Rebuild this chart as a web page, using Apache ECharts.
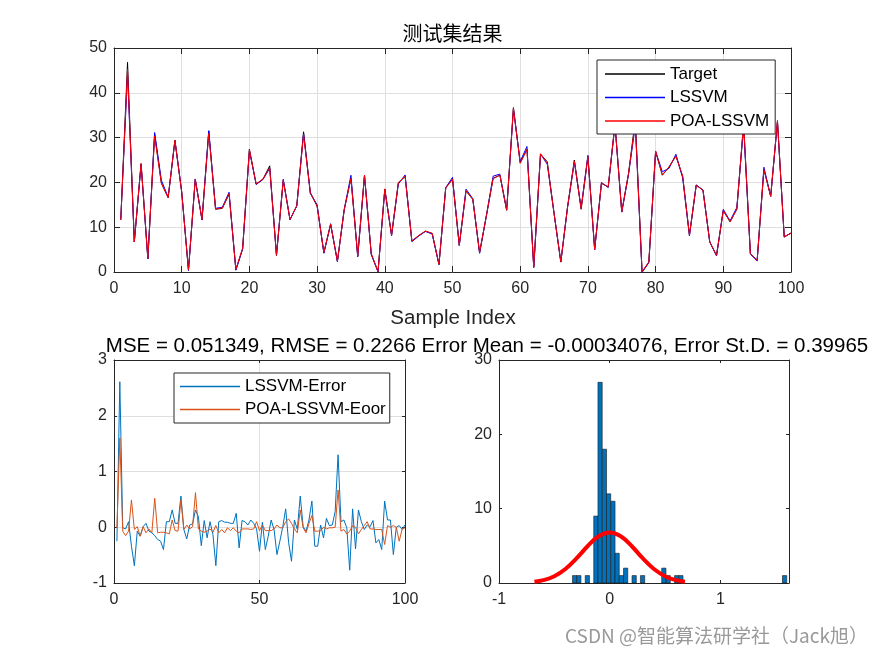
<!DOCTYPE html>
<html><head><meta charset="utf-8">
<script src="https://cdn.jsdelivr.net/npm/echarts@6/dist/echarts.min.js"></script>
<style>html,body{margin:0;padding:0;background:#fff}#c{width:875px;height:656px}</style>
</head><body><div id="c"></div>
<script>
// ---- data ----
const target = [11.6,46.8,6.7,24.1,3.0,30.8,19.8,16.6,29.3,17.9,
  0.4,20.7,11.6,31.4,14.0,14.2,17.4,0.5,5.2,27.4,
  19.6,20.7,23.7,3.7,20.5,11.7,14.8,31.3,17.7,14.7,
  4.3,10.6,2.4,13.8,20.9,3.5,21.6,4.0,0.1,18.5,
  8.2,19.9,21.3,6.9,8.1,9.1,8.6,1.7,18.8,20.7,
  6.0,18.1,16.2,4.3,12.5,20.9,21.6,13.8,36.7,24.4,
  27.4,1.1,26.3,24.6,13.1,2.2,14.6,25.0,14.0,25.7,
  5.0,19.8,19.0,33.0,13.4,22.0,34.0,0.0,2.2,26.9,
  21.6,23.5,25.9,21.3,8.2,19.4,18.3,6.7,3.7,13.7,
  11.2,14.0,33.0,4.1,2.6,22.9,16.9,33.6,7.8,8.7];
const lssvmErr = [-0.25,2.61,-0.01,-0.03,0.10,-0.34,-0.69,-0.07,-0.16,0.01,
  0.07,-0.07,-0.10,-0.15,-0.22,-0.25,-0.40,0.10,0.10,0.31,
  0.07,0.07,0.56,-0.04,-0.21,0.04,0.06,0.31,0.19,-0.33,
  0.12,-0.19,0.10,-0.13,-0.69,0.10,0.12,0.09,0.09,0.07,
  0.07,0.25,-0.37,0.12,0.10,0.04,0.13,0.07,-0.03,-0.43,
  0.09,-0.40,-0.16,0.13,-0.04,-0.49,-0.25,0.01,0.33,-0.27,
  -0.61,0.13,-0.04,0.56,0.01,-0.07,0.13,0.47,-0.34,-0.34,
  0.04,-0.19,0.16,0.03,0.04,0.28,1.30,0.10,0.13,-0.01,
  -0.77,0.33,-0.39,0.31,0.10,-0.04,0.04,0.01,0.12,-0.28,
  -0.22,-0.40,0.47,0.13,0.13,-0.49,0.00,0.03,-0.04,0.04];
const poaErr = [-0.01,1.60,-0.07,-0.15,-0.07,0.49,-0.04,0.01,-0.16,0.01,
  -0.10,-0.03,-0.10,0.52,-0.10,-0.09,-0.09,-0.10,-0.12,0.13,
  -0.06,-0.07,0.49,-0.04,0.04,-0.03,0.01,0.62,-0.03,-0.07,
  -0.09,-0.07,-0.03,-0.09,0.03,-0.10,-0.04,-0.10,-0.01,-0.06,
  -0.01,-0.07,-0.10,-0.03,-0.03,-0.03,-0.04,-0.03,0.10,-0.06,
  0.04,-0.06,-0.06,-0.06,-0.03,0.04,-0.01,-0.01,0.10,0.15,
  0.07,-0.03,-0.10,0.31,-0.01,-0.10,0.07,0.21,-0.07,-0.07,
  -0.06,0.00,-0.03,-0.01,-0.01,0.00,0.67,-0.07,-0.04,-0.12,
  -0.07,0.03,0.00,-0.12,-0.04,0.03,0.10,-0.03,-0.03,-0.04,
  -0.04,-0.04,-0.31,0.03,0.00,0.03,0.00,-0.25,-0.04,-0.01];
const histBinLeft = [-0.336,-0.298,-0.221,-0.144,-0.106,-0.067,-0.029,0.010,0.048,0.086,0.125,0.202,0.278,0.470,0.509,0.586,0.624,1.561];
const histCounts  = [1,1,1,9,27,18,12,11,4,1,2,1,1,2,1,1,1,1];
const histBinWidth = 0.0384;
const fitX = [-0.68,-0.6,-0.5,-0.4,-0.3,-0.2,-0.1,0,0.1,0.2,0.3,0.4,0.5,0.6,0.68];
const fitY = [0.17,0.38,0.92,1.89,3.31,4.94,6.28,6.8,6.28,4.94,3.31,1.89,0.92,0.38,0.17];
const titleTop = '测试集结果';
const titleStats = 'MSE = 0.051349, RMSE = 0.2266 Error Mean = -0.00034076, Error St.D. = 0.39965';
const xLabelTop = 'Sample Index';
const watermark = 'CSDN @智能算法研学社（Jack旭）';

// ---- build ----
const FONT = "'Liberation Sans', Arial, Helvetica, sans-serif";
const AX = '#262626';
const idx = target.map((_, i) => i + 1);
const lssvm = target.map((t, i) => +(t - lssvmErr[i]).toFixed(3));
const poa = target.map((t, i) => +(t - poaErr[i]).toFixed(3));
const pairs = (ys) => ys.map((y, i) => [idx[i], y]);

function mainAxis(grid, pos, min, max, interval, tickLen, grid_lines) {
  return {
    type: 'value', gridIndex: grid, position: pos, min: min, max: max, interval: interval,
    axisLine: { show: true, onZero: false, lineStyle: { color: AX, width: 1 } },
    axisTick: { show: true, inside: true, length: tickLen, lineStyle: { color: AX } },
    axisLabel: { show: true, color: AX, fontSize: 16, fontFamily: FONT, margin: pos === 'bottom' ? 9 : 7,
      showMaxLabel: (max % interval === 0), showMinLabel: true },
    splitLine: { show: grid_lines, lineStyle: { color: '#dfdfdf', width: 1 } }
  };
}
function mirrorAxis(grid, pos, min, max, interval, tickLen) {
  return {
    type: 'value', gridIndex: grid, position: pos, min: min, max: max, interval: interval,
    axisLine: { show: true, onZero: false, lineStyle: { color: AX, width: 1 } },
    axisTick: { show: true, inside: true, length: tickLen, lineStyle: { color: AX } },
    axisLabel: { show: false }, splitLine: { show: false }
  };
}

const chart = echarts.init(document.getElementById('c'), null, { renderer: 'canvas' });
chart.setOption({
  animation: false,
  backgroundColor: '#fff',
  grid: [
    { left: 114, right: 84, top: 48, bottom: 384 },
    { left: 114, right: 470, top: 360, bottom: 73 },
    { left: 499, right: 86, top: 360, bottom: 73 }
  ],
  xAxis: [
    mainAxis(0, 'bottom', 0, 100, 10, 6, true),
    mirrorAxis(0, 'top', 0, 100, 10, 6),
    mainAxis(1, 'bottom', 0, 100, 50, 3, true),
    mirrorAxis(1, 'top', 0, 100, 50, 3),
    mainAxis(2, 'bottom', -1, 1.62, 1, 3, false),
    mirrorAxis(2, 'top', -1, 1.62, 1, 3)
  ],
  yAxis: [
    mainAxis(0, 'left', 0, 50, 10, 6, true),
    mirrorAxis(0, 'right', 0, 50, 10, 6),
    mainAxis(1, 'left', -1, 3, 1, 3, true),
    mirrorAxis(1, 'right', -1, 3, 1, 3),
    mainAxis(2, 'left', 0, 30, 10, 3, false),
    mirrorAxis(2, 'right', 0, 30, 10, 3)
  ],
  legend: [
    {
      data: ['Target', 'LSSVM', 'POA-LSSVM'],
      orient: 'vertical', left: 597, top: 60,
      padding: [5.5, 6, 4.5, 8], itemGap: 6.5, itemWidth: 60, itemHeight: 1.6,
      icon: 'rect', backgroundColor: '#fff', borderColor: AX, borderWidth: 1, borderRadius: 0,
      textStyle: { fontSize: 17, fontFamily: FONT, color: '#000', lineHeight: 16 }
    },
    {
      data: ['LSSVM-Error', 'POA-LSSVM-Eoor'],
      orient: 'vertical', left: 174, top: 373,
      padding: [5, 4, 5, 6], itemGap: 6, itemWidth: 60, itemHeight: 1.6,
      icon: 'rect', backgroundColor: '#fff', borderColor: AX, borderWidth: 1, borderRadius: 0,
      textStyle: { fontSize: 17, fontFamily: FONT, color: '#000', lineHeight: 16 }
    }
  ],
  series: [
    { name: 'Target', type: 'line', xAxisIndex: 0, yAxisIndex: 0, data: pairs(target), symbol: 'none',
      lineStyle: { color: '#000', width: 1 }, itemStyle: { color: '#000' } },
    { name: 'LSSVM', type: 'line', xAxisIndex: 0, yAxisIndex: 0, data: pairs(lssvm), symbol: 'none',
      lineStyle: { color: '#0000ff', width: 1 }, itemStyle: { color: '#0000ff' } },
    { name: 'POA-LSSVM', type: 'line', xAxisIndex: 0, yAxisIndex: 0, data: pairs(poa), symbol: 'none',
      lineStyle: { color: '#ff0000', width: 1 }, itemStyle: { color: '#ff0000' } },
    { name: 'LSSVM-Error', type: 'line', xAxisIndex: 2, yAxisIndex: 2, data: pairs(lssvmErr), symbol: 'none',
      lineStyle: { color: '#0072BD', width: 1 }, itemStyle: { color: '#0072BD' } },
    { name: 'POA-LSSVM-Eoor', type: 'line', xAxisIndex: 2, yAxisIndex: 2, data: pairs(poaErr), symbol: 'none',
      lineStyle: { color: '#D95319', width: 1 }, itemStyle: { color: '#D95319' } },
    { name: 'hist', type: 'custom', xAxisIndex: 4, yAxisIndex: 4,
      data: histBinLeft.map((l, i) => [l, histCounts[i]]),
      renderItem: function (params, api) {
        const l = api.value(0), c = api.value(1);
        const p0 = api.coord([l, c]);
        const p1 = api.coord([l + histBinWidth, 0]);
        return { type: 'rect', shape: { x: p0[0], y: p0[1], width: p1[0] - p0[0], height: p1[1] - p0[1] },
          style: { fill: '#0072BD', stroke: '#1a1a1a', lineWidth: 0.6 } };
      }, z: 2 },
    { name: 'fit', type: 'line', xAxisIndex: 4, yAxisIndex: 4, data: fitX.map((x, i) => [x, fitY[i]]),
      symbol: 'none', smooth: 0.4, lineStyle: { color: '#ff0000', width: 4 }, z: 3 }
  ],
  graphic: [
    { type: 'text', x: 452.5, y: 33, style: { text: titleTop, textAlign: 'center', textVerticalAlign: 'middle',
      font: "20px 'Noto Sans CJK SC', sans-serif", fill: '#000' } },
    { type: 'text', x: 453, y: 318, style: { text: xLabelTop, textAlign: 'center', textVerticalAlign: 'middle',
      font: "20.5px " + FONT, fill: AX } },
    { type: 'text', x: 487, y: 346, style: { text: titleStats, textAlign: 'center', textVerticalAlign: 'middle',
      font: "20.5px " + FONT, fill: '#000' } },
    { type: 'text', x: 868, y: 636, style: { text: watermark, textAlign: 'right', textVerticalAlign: 'middle',
      font: "19px 'Noto Sans CJK SC', sans-serif", fill: '#999' } }
  ]
});
</script></body></html>
